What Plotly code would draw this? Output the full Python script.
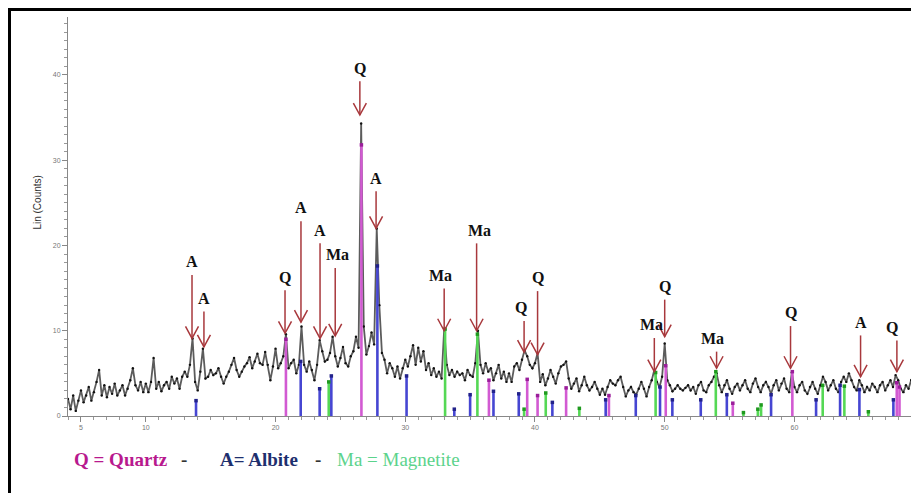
import plotly.graph_objects as go

# ---------------- data ----------------
two_theta_start = 4.0
two_theta_step = 0.2
counts = [
    2.0, 0.8, 2.4, 0.6, 1.8, 3.0, 1.6, 2.4, 3.4, 1.8,
    2.8, 4.0, 5.4, 2.4, 3.6, 2.2, 3.4, 2.6, 3.8, 2.4,
    3.0, 3.6, 2.4, 3.2, 4.2, 5.6, 3.6, 3.0, 4.0, 2.8,
    3.8, 2.8, 4.0, 6.8, 3.2, 4.0, 2.9, 3.6, 4.0, 3.2,
    4.6, 3.8, 4.4, 3.2, 4.6, 5.2, 4.6, 6.0, 9.1, 4.0,
    3.0, 5.2, 7.9, 4.4, 4.6, 5.4, 4.8, 5.0, 5.6, 4.6,
    3.8, 4.6, 5.2, 6.0, 6.8, 5.4, 4.6, 5.2, 5.8, 6.2,
    6.9, 5.6, 6.4, 7.3, 6.2, 6.0, 7.5, 6.0, 4.2, 5.8,
    7.9, 5.6, 6.2, 7.0, 9.6, 5.6, 6.2, 6.6, 5.0, 6.0,
    10.5, 6.0, 5.2, 6.4, 5.4, 4.2, 6.0, 8.9, 7.6, 6.4,
    6.6, 7.4, 9.3, 7.0, 5.8, 6.8, 8.1, 6.2, 5.8, 7.0,
    7.6, 9.3, 8.0, 34.3, 10.5, 7.2, 8.2, 9.8, 8.4, 22.0,
    13.0, 7.4, 6.6, 5.0, 6.2, 5.6, 4.6, 5.8, 4.4, 5.6,
    6.6, 5.8, 7.0, 8.3, 6.0, 8.0, 6.4, 7.6, 5.4, 6.2,
    4.8, 5.6, 4.6, 5.2, 4.4, 10.2, 6.0, 4.8, 5.4, 4.6,
    5.2, 4.8, 5.0, 4.2, 5.4, 4.8, 4.6, 6.2, 10.0, 6.0,
    5.0, 6.2, 5.2, 5.6, 4.2, 5.0, 6.0, 4.4, 5.2, 4.0,
    5.0, 4.0, 5.8, 6.2, 5.4, 6.6, 7.7, 7.0, 6.0, 5.6,
    6.2, 7.4, 4.0, 4.9, 3.6, 4.4, 5.4, 4.6, 3.8, 5.0,
    5.8, 6.0, 6.4, 4.4, 3.2, 3.8, 4.4, 2.9, 3.6, 4.6,
    3.6, 3.0, 3.4, 4.0, 3.2, 2.5, 3.2, 2.5, 3.4, 4.2,
    3.8, 3.6, 4.2, 4.6, 3.4, 2.3, 3.0, 3.4, 2.8, 2.5,
    3.2, 4.0, 3.2, 2.3, 3.4, 4.2, 5.4, 4.0, 3.4, 4.6,
    8.5, 4.2, 3.6, 2.9, 3.2, 3.6, 3.2, 3.0, 3.3, 3.6,
    3.0, 3.4, 2.6, 3.6, 4.0, 3.0, 2.8, 3.6, 4.0, 4.6,
    5.0, 3.6, 2.8, 3.6, 4.2, 3.2, 2.6, 3.4, 3.8, 3.0,
    3.6, 4.2, 3.2, 2.8, 3.8, 4.4, 3.4, 2.8, 3.6, 4.0,
    3.4, 2.6, 3.6, 4.2, 3.0, 3.8, 4.4, 3.2, 2.8, 5.1,
    3.4, 2.8, 3.6, 4.0, 3.0, 2.6, 3.4, 4.0, 3.2, 2.6,
    3.6, 4.6, 4.0, 3.0, 3.6, 4.2, 3.2, 2.8, 4.0, 4.6,
    4.0, 5.0, 4.2, 3.4, 3.0, 4.2, 3.6, 2.8, 3.4, 3.0,
    3.8, 3.4, 2.8, 3.6, 4.0, 3.0, 3.6, 4.2, 3.4, 4.8,
    4.2, 3.2, 2.8, 3.6, 3.2, 4.2, 4.8, 3.8,
]
two_theta = [round(two_theta_start + two_theta_step * i, 2) for i in range(len(counts))]

quartz_pos = [20.8, 26.62, 36.45, 39.4, 40.2, 42.4, 45.7, 50.08, 55.25, 59.84, 67.89, 68.1]
quartz_int = [9.0, 31.8, 4.2, 4.3, 2.4, 3.3, 2.4, 5.9, 1.5, 5.2, 3.9, 3.4]

albite_pos = [13.87, 21.94, 23.4, 24.3, 27.85, 30.1, 33.78, 35.0, 36.8, 38.75, 41.34, 45.45,
              47.77, 49.64, 50.59, 52.78, 54.79, 58.2, 61.67, 63.52, 65.01, 67.63, 69.43]
albite_int = [1.8, 6.4, 3.2, 4.7, 17.6, 4.7, 0.8, 2.5, 2.9, 2.6, 1.6, 1.9,
              2.4, 3.4, 1.9, 1.9, 2.5, 2.5, 1.9, 3.6, 3.1, 1.9, 2.9]

magnetite_pos = [24.1, 33.07, 35.56, 39.16, 40.83, 43.42, 49.3, 53.94, 56.07, 57.18, 57.43,
                 62.18, 63.85, 65.7, 69.2]
magnetite_int = [4.0, 10.2, 9.6, 0.8, 2.7, 0.9, 5.1, 5.2, 0.4, 0.8, 1.3, 3.6, 3.5, 0.5, 0.8]

peak_labels = ["A", "A", "Q", "A", "A", "Ma", "Q", "A", "Ma", "Ma", "Q", "Q", "Ma", "Q", "Ma", "Q", "A", "Q"]
peak_pos = [13.56, 14.48, 20.73, 21.96, 23.43, 24.6, 26.5, 27.75, 33.0, 35.5, 39.16, 40.2,
            49.2, 50.0, 54.0, 59.7, 65.1, 67.9]
peak_tip = [9.1, 8.1, 9.7, 11.0, 9.1, 9.4, 35.3, 22.0, 10.0, 10.0, 7.5, 7.2,
            5.2, 9.3, 5.6, 5.6, 4.6, 5.2]
label_pos = [13.56, 14.48, 20.73, 21.96, 23.43, 24.74, 26.5, 27.75, 32.7, 35.7, 38.9, 40.2,
             48.95, 50.0, 53.7, 59.7, 65.1, 67.5]
label_y = [18.1, 13.8, 16.3, 24.4, 21.8, 18.9, 40.8, 27.9, 16.5, 21.8, 12.7, 16.2,
           10.7, 15.2, 9.1, 12.1, 11.0, 10.4]

x_ticks = [5, 10, 20, 30, 40, 50, 60]
y_ticks = [0, 10, 20, 30, 40]

# ---------------- figure ----------------
fig = go.Figure()

fig.add_trace(go.Scatter(
    x=two_theta, y=counts, mode="lines+markers",
    line=dict(color="#5c5c5c", width=1.8),
    marker=dict(color="#111111", size=2.4),
    hoverinfo="skip", showlegend=False))


def sticks(pos, inten, color, dot):
    xs, ys = [], []
    for p, h in zip(pos, inten):
        xs += [p, p, None]
        ys += [0, h, None]
    fig.add_trace(go.Scatter(x=xs, y=ys, mode="lines", line=dict(color=color, width=2.6),
                             hoverinfo="skip", showlegend=False))
    fig.add_trace(go.Scatter(x=pos, y=inten, mode="markers",
                             marker=dict(color=dot, size=3.5, symbol="square"),
                             hoverinfo="skip", showlegend=False))


sticks(albite_pos, albite_int, "#4646d2", "#22228a")
sticks(quartz_pos, quartz_int, "#d25ad2", "#9a1e9a")
sticks(magnetite_pos, magnetite_int, "#55d855", "#1f9a1f")

arrow_color = "#a8383c"
shapes = []
annotations = []
for lab, xp, tip, lx, ly in zip(peak_labels, peak_pos, peak_tip, label_pos, label_y):
    annotations.append(dict(x=lx, y=ly, xref="x", yref="y", text="<b>" + lab + "</b>",
                            showarrow=False,
                            font=dict(family="Liberation Serif", size=16, color="#111111"),
                            xanchor="center", yanchor="middle"))
    shapes.append(dict(type="line", xref="x", yref="y", x0=xp, x1=xp, y0=tip, y1=ly - 1.55,
                       line=dict(color=arrow_color, width=1.5)))
    shapes.append(dict(type="path", xref="x", yref="y", xsizemode="pixel", ysizemode="pixel",
                       xanchor=xp, yanchor=tip, path="M -6.5,12 L 0,0 L 6.5,12",
                       line=dict(color=arrow_color, width=1.5)))

# black frame (left and top)
shapes.append(dict(type="line", xref="paper", yref="paper", x0=-0.0689, x1=-0.0689,
                   y0=1.03, y1=-0.2, line=dict(color="black", width=3)))
shapes.append(dict(type="line", xref="paper", yref="paper", x0=-0.0707, x1=1.01,
                   y0=1.0188, y1=1.0188, line=dict(color="black", width=3)))

annotations.append(dict(x=-0.0448, y=0.536, xref="paper", yref="paper", text="Lin (Counts)",
                        showarrow=False, textangle=-90,
                        font=dict(family="Liberation Sans", size=10, color="#333333")))

leg_y = -0.140
leg_font = "Liberation Serif"
annotations += [
    dict(x=0.0047, y=leg_y, xref="paper", yref="paper", xanchor="left", showarrow=False,
         text="<b>Q = Quartz</b>", font=dict(family=leg_font, size=19, color="#b8198e")),
    dict(x=0.137, y=leg_y, xref="paper", yref="paper", xanchor="center", showarrow=False,
         text="<b>-</b>", font=dict(family=leg_font, size=19, color="#333333")),
    dict(x=0.1767, y=leg_y, xref="paper", yref="paper", xanchor="left", showarrow=False,
         text="<b>A= Albite</b>", font=dict(family=leg_font, size=19, color="#1e2f6e")),
    dict(x=0.2945, y=leg_y, xref="paper", yref="paper", xanchor="center", showarrow=False,
         text="<b>-</b>", font=dict(family=leg_font, size=19, color="#333333")),
    dict(x=0.3145, y=leg_y, xref="paper", yref="paper", xanchor="left", showarrow=False,
         text="Ma = Magnetite", font=dict(family=leg_font, size=19, color="#5cd38c")),
]

fig.update_layout(
    width=911, height=485,
    margin=dict(l=60, r=2, t=9, b=77),
    paper_bgcolor="white", plot_bgcolor="white",
    shapes=shapes, annotations=annotations,
    xaxis=dict(range=[4, 69.45], tickmode="array", tickvals=x_ticks,
               ticks="outside", ticklen=5, tickcolor="#888888", tickwidth=1,
               showline=True, linecolor="#888888", linewidth=1,
               showgrid=False, zeroline=False,
               tickfont=dict(family="Liberation Sans", size=7, color="#777777"),
               minor=dict(tickmode="linear", tick0=0, dtick=1, ticks="outside", ticklen=3,
                          tickcolor="#999999", showgrid=False)),
    yaxis=dict(range=[0, 46.8], tickmode="array", tickvals=y_ticks,
               ticks="outside", ticklen=5, tickcolor="#888888", tickwidth=1,
               showline=True, linecolor="#888888", linewidth=1,
               showgrid=False, zeroline=False,
               tickfont=dict(family="Liberation Sans", size=7, color="#777777"),
               minor=dict(tickmode="linear", tick0=0, dtick=1, ticks="outside", ticklen=3,
                          tickcolor="#999999", showgrid=False)),
)

fig.write_html("out.html")
